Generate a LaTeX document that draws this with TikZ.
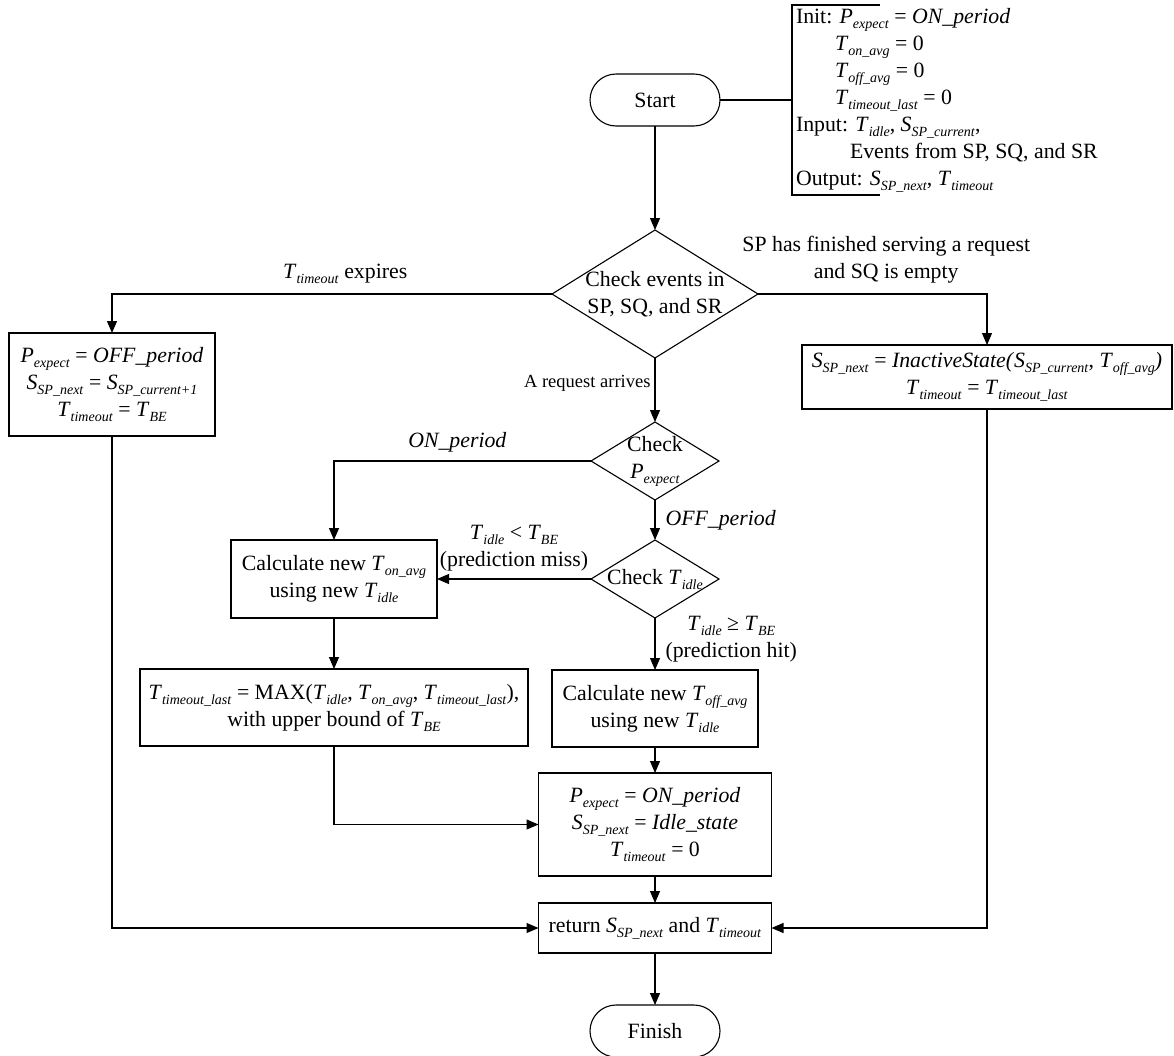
\documentclass[tikz,border=0pt]{standalone}
\usepackage{fontspec}
\setmainfont{Liberation Serif}
\usepackage{tikz}
\usetikzlibrary{arrows.meta,positioning,shapes.geometric}
\newcommand{\vsub}[2]{\textit{#1}\raisebox{-5pt}{\fontsize{14}{14}\selectfont\textit{#2}}}

\begin{document}
\begin{tikzpicture}[x=1pt,y=-1pt,font=\fontsize{21.8}{27}\selectfont,line width=1.1pt,box/.style={draw,align=center,inner sep=2pt,outer sep=0pt},term/.style={draw,rounded corners=26pt,minimum width=130pt,minimum height=52pt,outer sep=0pt},decision/.style={draw,diamond,inner sep=0pt,outer sep=0pt},arrow/.style={-{Triangle[length=12pt,width=10pt]}},tag/.style={align=center,inner sep=4pt}]
  \useasboundingbox (0,0) rectangle (1174,1055);
  \node[term] (start) at (655,100) {Start};
  \node[align=left,inner xsep=4pt,inner ysep=3pt,outer sep=0pt,right=72pt of start] (initnote) {Init: \vsub{P}{expect} = \textit{ON\_period}\\\hspace*{39pt}\vsub{T}{on\_avg} = 0\\\hspace*{39pt}\vsub{T}{off\_avg} = 0\\\hspace*{39pt}\vsub{T}{timeout\_last} = 0\\Input: \vsub{T}{idle}, \vsub{S}{SP\_current},\\\hspace*{54pt}Events from SP, SQ, and SR\\Output: \vsub{S}{SP\_next}, \vsub{T}{timeout}};
  \node[decision,minimum width=206pt,minimum height=128pt,below=104pt of start] (events) {};
  \node[align=center] (eventstext) at (events) {Check events in\\SP, SQ, and SR};
  \node[box,minimum width=206pt,minimum height=103pt] (expirebox) at (112,384.5) {\vsub{P}{expect} = \textit{OFF\_period}\\\vsub{S}{SP\_next} = \vsub{S}{SP\_current+1}\\\vsub{T}{timeout} = \vsub{T}{BE}};
  \node[box,minimum width=370pt,minimum height=64pt] (inactivebox) at (987,377) {\vsub{S}{SP\_next} = \textit{InactiveState(}\vsub{S}{SP\_current}, \vsub{T}{off\_avg}\textit{)}\\\vsub{T}{timeout} = \vsub{T}{timeout\_last}};
  \node[decision,minimum width=128pt,minimum height=78pt,below=64pt of events] (pchk) {};
  \node[align=center] (pchktext) at (pchk) {Check\\\vsub{P}{expect}};
  \node[decision,minimum width=128pt,minimum height=78pt,below=40pt of pchk] (tchk) {};
  \node (tchktext) at (tchk) {Check \vsub{T}{idle}};
  \node[box,minimum width=206pt,minimum height=78pt,left=154pt of tchk] (calcon) {Calculate new \vsub{T}{on\_avg}\\using new \vsub{T}{idle}};
  \node[box,minimum width=388pt,minimum height=77pt,below=51pt of calcon] (maxbox) {\vsub{T}{timeout\_last} = MAX(\vsub{T}{idle}, \vsub{T}{on\_avg}, \vsub{T}{timeout\_last}),\\with upper bound of \vsub{T}{BE}};
  \node[box,minimum width=206pt,minimum height=77pt,below=52pt of tchk] (calcoff) {Calculate new \vsub{T}{off\_avg}\\using new \vsub{T}{idle}};
  \node[box,minimum width=233pt,minimum height=103pt,below=26pt of calcoff] (idlebox) {\vsub{P}{expect} = \textit{ON\_period}\\\vsub{S}{SP\_next} = \textit{Idle\_state}\\\vsub{T}{timeout} = 0};
  \node[box,minimum width=233pt,minimum height=50pt,below=27pt of idlebox] (returnbox) {return \vsub{S}{SP\_next} and \vsub{T}{timeout}};
  \node[term,below=52pt of returnbox] (finish) {Finish};
  \draw (initnote.north west) ++(88,0) -- (initnote.north west) -- (initnote.south west) -- ++(88,0);
  \draw (start.east) -- (initnote.west);
  \draw[arrow] (start) -- (events);
  \draw[arrow] (events.west) -| node[tag,above=6pt,pos=0.235]{\vsub{T}{timeout} expires} (expirebox.north);
  \draw[arrow] (events.east) -| node[tag,above=6pt,pos=0.28]{SP has finished serving a request\\and SQ is empty} (inactivebox.north);
  \draw[arrow] (events) -- node[tag,left,pos=0.4,font=\fontsize{18.5}{22}\selectfont]{A request arrives} (pchk);
  \draw[arrow] (pchk.west) -| node[tag,above=4pt,pos=0.26]{\textit{ON\_period}} (calcon.north);
  \draw[arrow] (pchk) -- node[tag,right=6pt]{\textit{OFF\_period}} (tchk);
  \draw[arrow] (tchk.west) -- node[tag,above=3pt]{\vsub{T}{idle} < \vsub{T}{BE}\\(prediction miss)} (calcon.east);
  \draw[arrow] (tchk) -- node[tag,right=6pt,pos=0.4]{\vsub{T}{idle} ≥ \vsub{T}{BE}\\(prediction hit)} (calcoff);
  \draw[arrow] (calcon) -- (maxbox);
  \draw[arrow] (calcoff) -- (idlebox);
  \draw[arrow] (maxbox.south) |- (idlebox.west);
  \draw[arrow] (idlebox) -- (returnbox);
  \draw[arrow] (expirebox.south) |- (returnbox.west);
  \draw[arrow] (inactivebox.south) |- (returnbox.east);
  \draw[arrow] (returnbox) -- (finish);
\end{tikzpicture}
\end{document}
